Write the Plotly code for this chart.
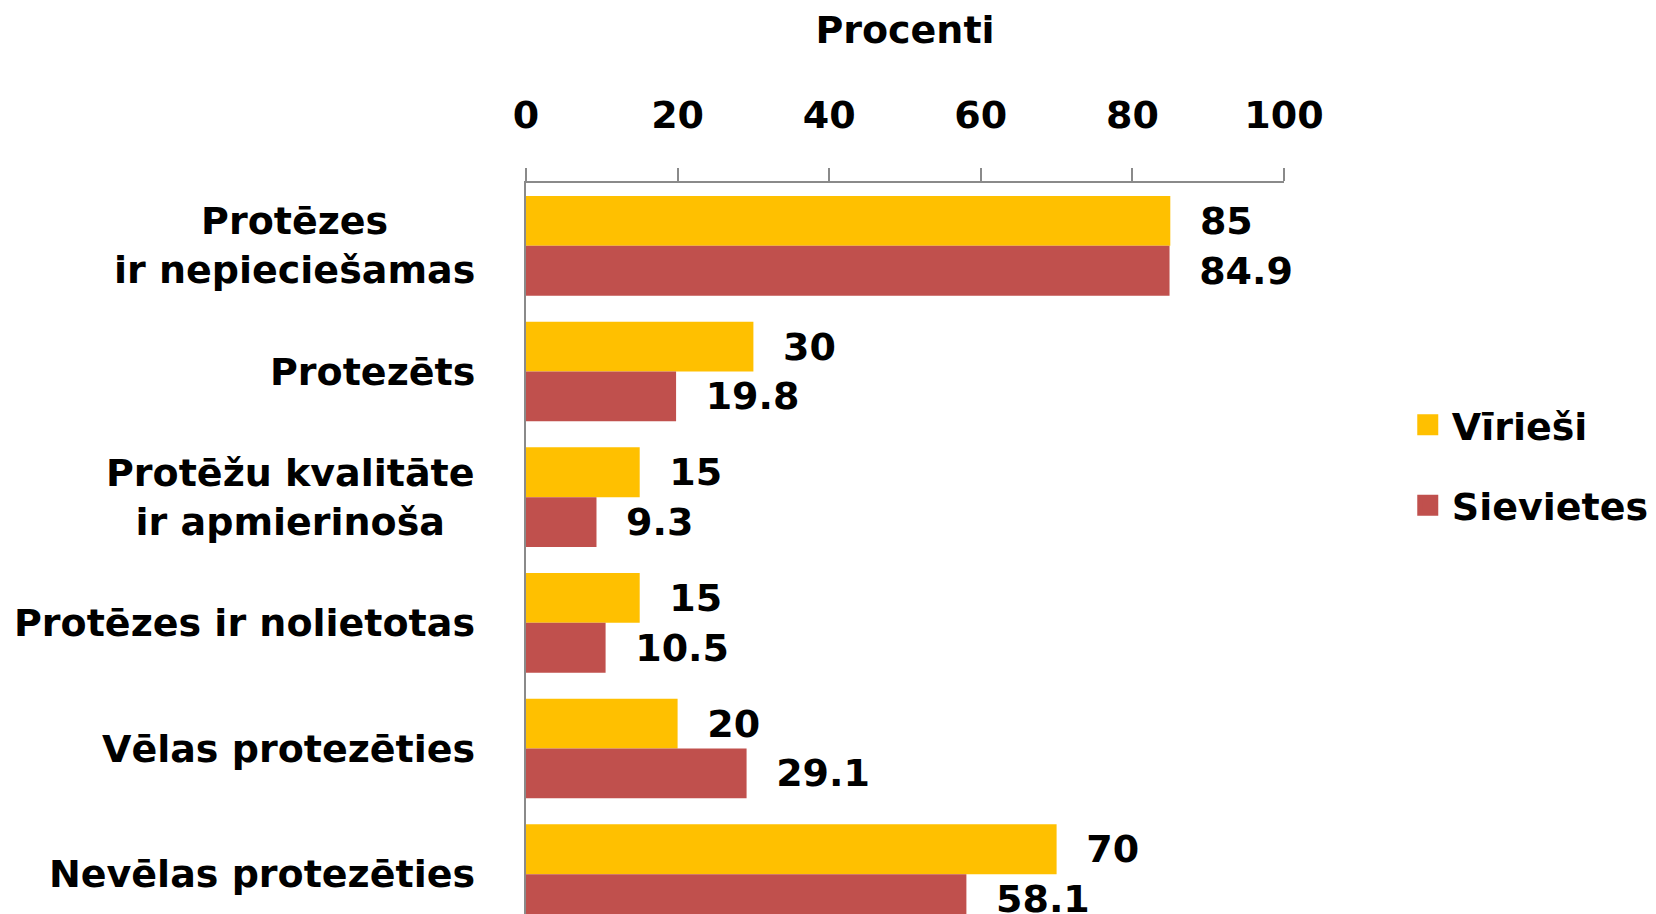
import plotly.graph_objects as go

categories = [
    "Protēzes<br>ir nepieciešamas",
    "Protezēts",
    "Protēžu kvalitāte<br>ir apmierinoša",
    "Protēzes ir nolietotas",
    "Vēlas protezēties",
    "Nevēlas protezēties",
]
series_names = ["Vīrieši", "Sievietes"]
virieši = [85, 30, 15, 15, 20, 70]
sievietes = [84.9, 19.8, 9.3, 10.5, 29.1, 58.1]
series_values = [virieši, sievietes]
colors = ["#FFC000", "#C0504D"]
x_ticks = [0, 20, 40, 60, 80, 100]
axis_title = "Procenti"

FONT = "DejaVu Sans"
FS = 38
AXIS_COLOR = "#8A8A8A"
BOLD = dict(family=FONT, size=FS, color="black", weight="bold")

fig = go.Figure()
for name, vals, col in zip(series_names, series_values, colors):
    fig.add_trace(go.Bar(
        y=categories, x=vals, name=name, orientation="h",
        marker=dict(color=col, line=dict(width=0)),
        texttemplate="\u2002\u2009%{x}", textposition="outside",
        textfont=BOLD, constraintext="none", cliponaxis=False, showlegend=False,
        hoverinfo="x+y",
    ))
# legend entries (larger square swatches)
for i, (name, col) in enumerate(zip(series_names, colors)):
    fig.add_trace(go.Scatter(
        x=[None], y=[None], mode="markers", name=name,
        legendgroup=f"g{i}",
        marker=dict(symbol="square", size=16, color=col, line=dict(color=col, width=5)),
    ))

# category labels (centre-aligned multi-line, right-anchored next to axis)
for c in categories:
    fig.add_annotation(
        x=-0.064, xref="paper", y=c, yref="y",
        text=c, showarrow=False, xanchor="right", yanchor="middle", align="center",
        font=BOLD,
    )

fig.update_layout(
    width=1648, height=906,
    margin=dict(l=518, r=372, t=175, b=0, autoexpand=False),
    paper_bgcolor="white", plot_bgcolor="white",
    barmode="group", bargap=0.207, bargroupgap=0,
    font=BOLD,
    legend=dict(
        x=1.158, xanchor="left", y=0.614, yanchor="middle",
        font=BOLD, tracegroupgap=28, itemwidth=38, bgcolor="rgba(0,0,0,0)",
    ),
    xaxis=dict(
        side="top", range=[0, 100], tickvals=x_ticks, ticktext=[str(t) for t in x_ticks],
        ticks="outside", ticklen=13, tickwidth=1.5, tickcolor=AXIS_COLOR,
        showline=True, linecolor=AXIS_COLOR, linewidth=1.5,
        showgrid=False, zeroline=False, automargin=False,
        tickfont=BOLD, ticklabelstandoff=25,
        title=dict(text=axis_title, standoff=38, font=BOLD),
    ),
    yaxis=dict(
        type="category", categoryorder="array", categoryarray=categories,
        range=[5.317, -0.5], showticklabels=False, ticks="",
        showline=True, linecolor=AXIS_COLOR, linewidth=1.5,
        showgrid=False, zeroline=False, automargin=False,
    ),
)

fig.write_html("out.html")
